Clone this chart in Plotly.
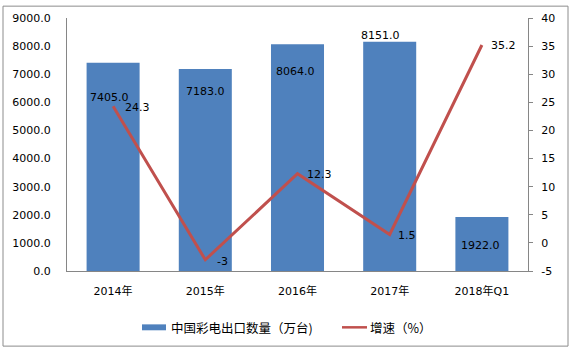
import plotly.graph_objects as go

categories = ["2014年", "2015年", "2016年", "2017年", "2018年Q1"]
export_qty = [7405.0, 7183.0, 8064.0, 8151.0, 1922.0]
growth = [24.3, -3, 12.3, 1.5, 35.2]
growth_labels = ["24.3", "-3", "12.3", "1.5", "35.2"]
left_ticks = [0, 1000, 2000, 3000, 4000, 5000, 6000, 7000, 8000, 9000]
right_ticks = [-5, 0, 5, 10, 15, 20, 25, 30, 35, 40]
right_tick_text = ["-5", "0", "5", "10", "15", "20", "25", "30", "35", "40"]
bar_name = "中国彩电出口数量（万台)"
line_name = "增速（%）"

BAR_COLOR = "#4F81BD"
LINE_COLOR = "#C0504D"
FONT = "DejaVu Sans, Noto Sans CJK SC, sans-serif"
LEGEND_FONT = "Noto Sans CJK SC, DejaVu Sans, sans-serif"
AXIS_GRAY = "#868686"

# plot area in pixels
L, R, T, B = 67, 528, 15, 271
W, H = R - L, B - T


def px(x):
    return (x - L) / W


def py(y):
    return (B - y) / H


# label offsets (pixels) for value labels
bar_label_dx = [-4, 0, -2, -9, -1]
bar_label_dy = [-35, -22, -27, 6, -29]
line_dx = [24, 17, 22, 17, 22]
line_dy = [-1, -2, -1, -1, -1]

fig = go.Figure()
fig.add_trace(go.Bar(
    x=categories, y=export_qty, name=bar_name,
    marker=dict(color=BAR_COLOR, line=dict(width=0)),
    yaxis="y", showlegend=False,
))
fig.add_trace(go.Scatter(
    x=categories, y=growth, name=line_name, mode="lines",
    line=dict(color=LINE_COLOR, width=3),
    yaxis="y2", showlegend=False,
))

annotations = []
for c, v, dx, dy in zip(categories, export_qty, bar_label_dx, bar_label_dy):
    annotations.append(dict(
        x=c, y=v, xref="x", yref="y", text=f"{v:.1f}", showarrow=False,
        xshift=dx, yshift=dy, font=dict(size=11, color="#000000", family=FONT),
    ))
for c, v, t, dx, dy in zip(categories, growth, growth_labels, line_dx, line_dy):
    annotations.append(dict(
        x=c, y=v, xref="x", yref="y2", text=t, showarrow=False,
        xshift=dx, yshift=dy, font=dict(size=11, color="#000000", family=FONT),
    ))

# custom legend (wide flat bar swatch + line swatch), as in the reference
annotations.append(dict(x=px(169), y=py(328), xref="paper", yref="paper", text=bar_name,
                        showarrow=False, xanchor="left", yanchor="middle",
                        font=dict(size=12.5, color="#000000", family=LEGEND_FONT)))
annotations.append(dict(x=px(368), y=py(328), xref="paper", yref="paper", text=line_name,
                        showarrow=False, xanchor="left", yanchor="middle",
                        font=dict(size=12.5, color="#000000", family=LEGEND_FONT)))

shapes = [
    dict(type="rect", xref="paper", yref="paper",
         x0=px(3), x1=px(568), y0=py(347), y1=py(3),
         line=dict(color="#8C8C8C", width=1), fillcolor="rgba(0,0,0,0)", layer="below"),
    dict(type="rect", xref="paper", yref="paper",
         x0=px(142), x1=px(166), y0=py(331), y1=py(325),
         line=dict(width=0), fillcolor=BAR_COLOR),
    dict(type="line", xref="paper", yref="paper",
         x0=px(342), x1=px(367), y0=py(328), y1=py(328),
         line=dict(color=LINE_COLOR, width=2.5)),
]

fig.update_layout(
    width=571, height=351,
    margin=dict(l=L, r=571 - R, t=T, b=351 - B),
    paper_bgcolor="white", plot_bgcolor="white",
    font=dict(family=FONT, size=11, color="#000000"),
    bargap=0.425,
    showlegend=False,
    xaxis=dict(
        showgrid=False, showline=True, linecolor=AXIS_GRAY, linewidth=1,
        ticks="", ticklabelstandoff=10, tickfont=dict(size=11),
    ),
    yaxis=dict(
        range=[0, 9000], tickvals=left_ticks, tickformat=".1f", showgrid=False,
        showline=True, linecolor=AXIS_GRAY, linewidth=1, ticks="",
        ticklabelstandoff=13, zeroline=False, tickfont=dict(size=11),
    ),
    yaxis2=dict(
        range=[-5, 40], tickvals=right_ticks, ticktext=right_tick_text,
        overlaying="y", side="right", showgrid=False,
        showline=True, linecolor=AXIS_GRAY, linewidth=1, ticks="outside",
        ticklen=4, tickcolor=AXIS_GRAY, zeroline=False, tickfont=dict(size=11),
        ticklabelstandoff=6,
    ),
    annotations=annotations,
    shapes=shapes,
)

fig.write_html("out.html")
